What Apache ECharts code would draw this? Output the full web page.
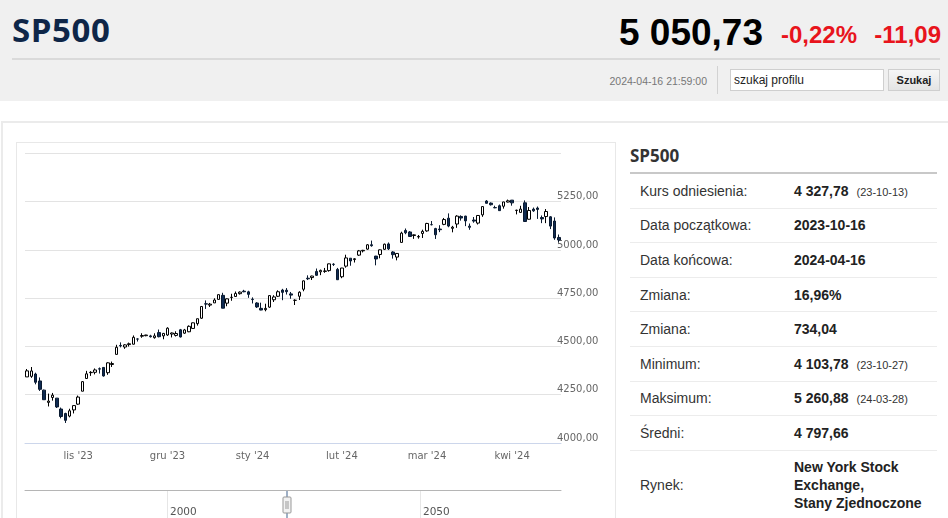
<!DOCTYPE html>
<html>
<head>
<meta charset="utf-8">
<script src="https://cdn.jsdelivr.net/npm/echarts@6/dist/echarts.min.js"></script>
<style>
  html, body { margin: 0; padding: 0; }
  body { width: 948px; height: 518px; overflow: hidden; position: relative; background: #fff;
         font-family: "Liberation Sans", Arial, sans-serif; color: #333; }
  .abs { position: absolute; white-space: nowrap; }
  #top { left: 0; top: 0; width: 948px; height: 101px; background: #f0f0f0; }
  #name { left: 12px; top: 13px; font-family: "Open Sans", sans-serif; font-size: 33px; line-height: 33px; font-weight: bold; color: #0e2648; letter-spacing: 0.6px; }
  #price { right: 185px; top: 13.7px; font-size: 37px; line-height: 37px; font-weight: bold; color: #000; }
  #pct { right: 91px; top: 23.2px; font-size: 24px; line-height: 24px; font-weight: bold; color: #e8141c; }
  #chg { right: 7px; top: 23.2px; font-size: 24px; line-height: 24px; font-weight: bold; color: #e8141c; }
  #sep { left: 12px; top: 57.5px; width: 928px; height: 2px; background: #dadada; }
  #stamp { right: 241px; top: 74.7px; font-size: 10.5px; line-height: 12px; color: #777; }
  #vbar { left: 717px; top: 66px; width: 1px; height: 28px; background: #d2d2d2; }
  #search { left: 730px; top: 69px; width: 154px; height: 22px; box-sizing: border-box; border: 1px solid #cfcfcf;
            background: #fff; font-size: 12px; line-height: 20px; padding-left: 3px; color: #222; }
  #btn { left: 888px; top: 69px; width: 52px; height: 22px; box-sizing: border-box; border: 1px solid #cfcfcf;
         background: linear-gradient(#f6f6f6, #e4e4e4); font-size: 11px; line-height: 20px; text-align: center; font-weight: bold; color: #222; }
  #panel { left: 1px; top: 121px; width: 960px; height: 420px; border-top: 2px solid #ebebeb; border-left: 2px solid #ebebeb; }
  #chartbox { left: 16px; top: 142px; width: 600px; height: 400px; box-sizing: border-box; border: 1px solid #e8e8e8; }
  #chart { left: 17px; top: 143px; width: 598px; height: 375px; }
  #side { left: 630px; top: 146px; width: 307px; }
  #side h2 { margin: 0; font-family: "Open Sans", sans-serif; font-size: 17px; line-height: 20px; font-weight: bold; color: #333; height: 26px; border-bottom: 2px solid #c8c8c8; }
  .row { display: flex; align-items: center; height: 34.6px; box-sizing: border-box; border-bottom: 1px solid #ececec; font-size: 14px; }
  .row .l { width: 154px; padding-left: 10px; color: #333; }
  .row .v { font-weight: bold; color: #222; }
  .row .v small { font-weight: normal; font-size: 11px; margin-left: 8px; color: #333; }
  .row.last { height: 69px; border-bottom: none; }
  .row.last .v { line-height: 18px; }
</style>
</head>
<body>
<div id="top" class="abs"></div>
<div id="name" class="abs">SP500</div>
<div id="price" class="abs">5 050,73</div>
<div id="pct" class="abs">-0,22%</div>
<div id="chg" class="abs">-11,09</div>
<div id="sep" class="abs"></div>
<div id="stamp" class="abs">2024-04-16 21:59:00</div>
<div id="vbar" class="abs"></div>
<div id="search" class="abs">szukaj profilu</div>
<div id="btn" class="abs">Szukaj</div>
<div id="panel" class="abs"></div>
<div id="chartbox" class="abs"></div>
<div id="chart" class="abs"></div>
<div id="side" class="abs">
  <h2>SP500</h2>
  <div class="row"><div class="l">Kurs odniesienia:</div><div class="v">4 327,78<small>(23-10-13)</small></div></div>
  <div class="row"><div class="l">Data początkowa:</div><div class="v">2023-10-16</div></div>
  <div class="row"><div class="l">Data końcowa:</div><div class="v">2024-04-16</div></div>
  <div class="row"><div class="l">Zmiana:</div><div class="v">16,96%</div></div>
  <div class="row"><div class="l">Zmiana:</div><div class="v">734,04</div></div>
  <div class="row"><div class="l">Minimum:</div><div class="v">4 103,78<small>(23-10-27)</small></div></div>
  <div class="row"><div class="l">Maksimum:</div><div class="v">5 260,88<small>(24-03-28)</small></div></div>
  <div class="row"><div class="l">Średni:</div><div class="v">4 797,66</div></div>
  <div class="row last"><div class="l">Rynek:</div><div class="v">New York Stock<br>Exchange,<br>Stany Zjednoczone</div></div>
</div>
<script>
// trading days shown on the chart
var dates = [
  '2023-10-16','2023-10-17','2023-10-18','2023-10-19','2023-10-20','2023-10-23','2023-10-24','2023-10-25','2023-10-26','2023-10-27','2023-10-30','2023-10-31',
  '2023-11-01','2023-11-02','2023-11-03','2023-11-06','2023-11-07','2023-11-08','2023-11-09','2023-11-10','2023-11-13','2023-11-14','2023-11-15','2023-11-16','2023-11-17','2023-11-20','2023-11-21','2023-11-22','2023-11-24','2023-11-27','2023-11-28','2023-11-29','2023-11-30',
  '2023-12-01','2023-12-04','2023-12-05','2023-12-06','2023-12-07','2023-12-08','2023-12-11','2023-12-12','2023-12-13','2023-12-14','2023-12-15','2023-12-18','2023-12-19','2023-12-20','2023-12-21','2023-12-22','2023-12-26','2023-12-27','2023-12-28','2023-12-29',
  '2024-01-02','2024-01-03','2024-01-04','2024-01-05','2024-01-08','2024-01-09','2024-01-10','2024-01-11','2024-01-12','2024-01-16','2024-01-17','2024-01-18','2024-01-19','2024-01-22','2024-01-23','2024-01-24','2024-01-25','2024-01-26','2024-01-29','2024-01-30','2024-01-31',
  '2024-02-01','2024-02-02','2024-02-05','2024-02-06','2024-02-07','2024-02-08','2024-02-09','2024-02-12','2024-02-13','2024-02-14','2024-02-15','2024-02-16','2024-02-20','2024-02-21','2024-02-22','2024-02-23','2024-02-26','2024-02-27','2024-02-28','2024-02-29',
  '2024-03-01','2024-03-04','2024-03-05','2024-03-06','2024-03-07','2024-03-08','2024-03-11','2024-03-12','2024-03-13','2024-03-14','2024-03-15','2024-03-18','2024-03-19','2024-03-20','2024-03-21','2024-03-22','2024-03-25','2024-03-26','2024-03-27','2024-03-28',
  '2024-04-01','2024-04-02','2024-04-03','2024-04-04','2024-04-05','2024-04-08','2024-04-09','2024-04-10','2024-04-11','2024-04-12','2024-04-15','2024-04-16'
];
var opens = [
  4342.37,4345.23,4357.35,4321.36,4273.85,4210.40,4235.79,4232.42,4175.99,4152.93,4139.39,4171.33,
  4201.27,4268.26,4334.23,4364.27,4366.21,4384.37,4391.41,4364.15,4406.66,4458.97,4505.30,4497.08,4509.55,4511.70,4538.77,4553.04,4555.84,4554.86,4545.55,4571.84,4554.87,
  4559.43,4564.37,4557.25,4586.23,4568.84,4576.20,4593.39,4618.30,4646.20,4721.04,4714.23,4725.58,4743.72,4764.73,4724.29,4753.92,4758.86,4773.45,4786.44,4782.88,
  4745.20,4725.07,4697.42,4690.57,4703.70,4741.93,4759.94,4792.13,4791.18,4772.35,4739.13,4760.10,4796.28,4853.42,4856.80,4888.56,4886.66,4888.91,4892.95,4925.89,4899.19,
  4861.11,4916.06,4957.19,4950.16,4973.05,4995.16,5004.17,5026.83,4967.94,4976.44,5003.14,5031.13,4989.32,4963.03,5038.83,5100.92,5093.00,5074.60,5067.20,5085.36,
  5098.51,5130.99,5110.52,5108.03,5132.38,5164.46,5111.96,5134.30,5173.49,5175.14,5123.31,5154.77,5139.09,5181.69,5253.43,5242.48,5219.52,5228.85,5226.31,5248.03,
  5257.97,5204.29,5194.37,5244.05,5158.95,5211.37,5217.03,5167.88,5172.95,5171.51,5149.67,5064.59
];
var highs = [
  4383.33,4393.57,4364.20,4339.54,4276.56,4255.84,4259.38,4232.42,4183.60,4156.70,4177.47,4195.55,
  4245.64,4319.72,4373.62,4372.21,4386.26,4391.20,4393.40,4418.03,4421.76,4508.67,4521.17,4511.99,4520.12,4557.11,4542.14,4568.43,4560.31,4560.52,4568.14,4587.64,4569.89,
  4599.39,4572.37,4578.56,4590.74,4590.92,4609.23,4623.71,4643.93,4709.69,4738.57,4725.53,4749.52,4768.69,4778.01,4748.71,4772.94,4784.72,4785.39,4793.30,4788.43,
  4754.33,4729.29,4726.78,4721.49,4764.54,4765.47,4790.80,4798.50,4802.40,4782.34,4744.23,4785.79,4842.07,4868.41,4866.48,4903.68,4898.15,4906.69,4929.31,4931.09,4906.75,
  4906.97,4975.29,4957.19,4957.77,4999.89,5000.40,5030.06,5048.39,4969.34,5002.52,5032.72,5038.70,4993.71,4983.21,5094.39,5111.06,5097.66,5080.69,5077.37,5104.99,
  5140.33,5149.67,5114.54,5127.97,5165.62,5189.26,5124.66,5179.87,5179.14,5176.85,5136.86,5170.45,5180.31,5226.19,5258.00,5246.09,5229.09,5235.16,5249.26,5260.88,
  5258.00,5208.34,5228.75,5256.59,5222.18,5219.57,5224.81,5178.43,5211.78,5175.03,5168.43,5079.84
];
var lows = [
  4342.37,4337.54,4303.84,4269.69,4223.03,4189.22,4219.43,4181.42,4127.90,4103.78,4132.94,4153.12,
  4197.74,4268.26,4334.23,4347.53,4355.41,4359.76,4343.94,4353.34,4393.82,4458.97,4495.31,4487.83,4499.66,4510.36,4525.51,4545.05,4552.80,4546.32,4540.51,4547.15,4537.24,
  4554.71,4546.72,4551.68,4546.50,4565.22,4574.06,4593.39,4608.09,4643.23,4694.34,4704.69,4725.58,4743.72,4697.82,4708.35,4736.77,4758.45,4768.90,4780.98,4751.99,
  4722.67,4699.71,4687.53,4682.11,4699.82,4730.35,4756.20,4739.58,4768.98,4747.12,4714.82,4740.57,4785.87,4844.05,4844.37,4865.94,4869.34,4881.47,4887.40,4916.95,4845.15,
  4853.52,4907.99,4918.09,4934.88,4969.05,4987.09,5000.34,5016.83,4920.31,4956.45,4999.44,4999.52,4955.02,4946.00,5038.83,5081.46,5068.91,5057.29,5058.35,5061.89,
  5094.16,5127.18,5056.82,5092.22,5128.21,5117.50,5091.14,5114.48,5151.88,5123.30,5104.35,5140.84,5131.59,5171.55,5240.09,5229.87,5216.09,5203.42,5213.92,5245.82,
  5229.20,5184.05,5194.37,5146.06,5157.21,5197.35,5160.78,5138.70,5138.77,5107.94,5052.47,5039.83
];
var closes = [
  4373.63,4373.20,4314.60,4278.00,4224.16,4217.04,4247.68,4186.77,4137.23,4117.37,4166.82,4193.80,
  4237.86,4317.78,4358.34,4365.98,4378.38,4382.78,4347.35,4415.24,4411.55,4495.70,4502.88,4508.24,4514.02,4547.38,4538.19,4556.62,4559.34,4550.43,4554.89,4550.58,4567.80,
  4594.63,4569.78,4567.18,4549.34,4585.59,4604.37,4622.44,4643.70,4707.09,4719.55,4719.19,4740.56,4768.37,4698.35,4746.75,4754.63,4774.75,4781.58,4783.35,4769.83,
  4742.83,4704.81,4688.68,4697.24,4763.54,4756.50,4783.45,4780.24,4783.83,4765.98,4739.21,4780.94,4839.81,4850.43,4864.60,4868.55,4894.16,4890.97,4927.93,4924.97,4845.65,
  4906.19,4958.61,4942.81,4954.23,4995.06,4997.91,5026.61,5021.84,4953.17,5000.62,5029.73,5005.57,4975.51,4981.80,5087.03,5088.80,5069.53,5078.18,5069.76,5096.27,
  5137.08,5130.95,5078.65,5104.76,5157.36,5123.69,5117.94,5175.27,5165.31,5150.48,5117.09,5149.42,5178.51,5224.62,5241.53,5234.18,5218.19,5203.58,5248.49,5254.35,
  5243.77,5205.81,5211.49,5147.21,5204.34,5202.39,5209.91,5160.64,5199.06,5123.41,5061.82,5051.41
];
// month ticks on the date axis
var tickDates = ['2023-11-01','2023-12-01','2024-01-02','2024-02-01','2024-03-01','2024-04-01'];
var tickLabels = ["lis '23","gru '23","sty '24","lut '24","mar '24","kwi '24"];
// navigator scale labels
var navTicks = [2000, 2050];

var candles = [];
for (var i = 0; i < dates.length; i++) {
    candles.push([opens[i], closes[i], lows[i], highs[i]]);
}
function isTick(idx, val) {
    return tickDates.indexOf(val) >= 0;
}

var myChart = echarts.init(document.getElementById('chart'));
var option = {
    animation: false,
    grid: [
        {left: 8, top: 10.4, width: 536, height: 289.6},
        {left: 8, top: 347, width: 536, height: 60}
    ],
    xAxis: [
        {
            type: 'category',
            gridIndex: 0,
            data: dates,
            boundaryGap: true,
            axisLine: {lineStyle: {color: '#ccd6eb'}},
            axisTick: {alignWithLabel: true, length: 9, interval: isTick, lineStyle: {color: '#ccd6eb'}},
            axisLabel: {
                interval: isTick,
                margin: 8,
                color: '#666',
                fontFamily: 'DejaVu Sans',
                fontSize: 10,
                formatter: function (v) { return tickLabels[tickDates.indexOf(v)]; }
            },
            splitLine: {show: false}
        },
        {
            type: 'value',
            gridIndex: 1,
            position: 'top',
            min: 1971.94,
            max: 2077.87,
            axisLine: {show: true, onZero: false, lineStyle: {color: '#b5b5b5'}},
            axisTick: {show: false, customValues: navTicks},
            splitLine: {show: true, lineStyle: {color: '#e6e6e6'}},
            axisLabel: {
                inside: true,
                customValues: navTicks,
                align: 'left',
                padding: [0, 0, 0, 3],
                margin: 17,
                color: '#555',
                fontFamily: 'DejaVu Sans',
                fontSize: 10.5,
                formatter: function (v) { return String(v); }
            }
        }
    ],
    yAxis: [
        {
            type: 'value',
            gridIndex: 0,
            position: 'right',
            min: 4000,
            max: 5500,
            interval: 250,
            axisLine: {show: false},
            axisTick: {show: false},
            splitLine: {lineStyle: {color: '#e3e3e3'}},
            axisLabel: {
                margin: -4,
                align: 'left',
                verticalAlign: 'bottom',
                showMaxLabel: false,
                color: '#666',
                fontFamily: 'DejaVu Sans',
                fontSize: 10,
                formatter: function (v) { return v.toFixed(2).replace('.', ','); }
            }
        },
        {type: 'value', gridIndex: 1, show: false, min: 0, max: 1}
    ],
    series: [{
        name: 'SP500',
        type: 'candlestick',
        xAxisIndex: 0,
        yAxisIndex: 0,
        barWidth: 3,
        itemStyle: {
            color: '#ffffff',
            color0: '#0f2b52',
            borderColor: '#000000',
            borderColor0: '#0a1a30',
            borderWidth: 1
        },
        data: candles
    }],
    graphic: [
        {type: 'line', shape: {x1: 270, y1: 347, x2: 270, y2: 380}, style: {stroke: '#9fb0c6', lineWidth: 2}},
        {type: 'rect', shape: {x: 266, y: 354, width: 8, height: 16, r: 1}, style: {fill: '#f2f2f2', stroke: '#999', lineWidth: 1}},
        {type: 'line', shape: {x1: 269, y1: 358, x2: 269, y2: 366}, style: {stroke: '#999', lineWidth: 1}},
        {type: 'line', shape: {x1: 271, y1: 358, x2: 271, y2: 366}, style: {stroke: '#999', lineWidth: 1}}
    ]
};
myChart.setOption(option);
</script>
</body>
</html>
